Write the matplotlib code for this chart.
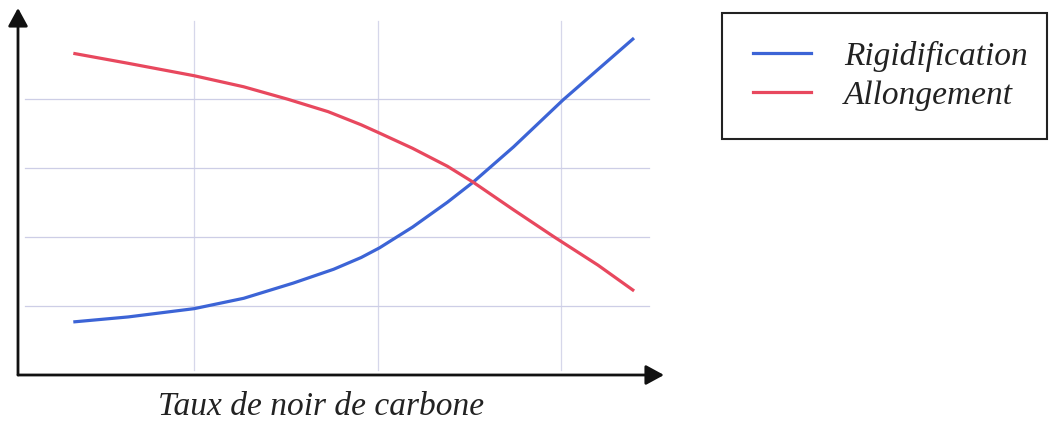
import matplotlib
matplotlib.use("Agg")
import matplotlib.pyplot as plt
from matplotlib.patches import Rectangle

plt.rcParams['font.family'] = ['Liberation Serif', 'DejaVu Serif']

# courbes schématiques : rigidification / allongement selon le taux de noir de carbone
taux = [0.35, 0.64, 1.00, 1.27, 1.54, 1.76, 1.91, 2.01, 2.19, 2.38, 2.52, 2.74, 3.01, 3.39]
rigidification = [0.77, 0.84, 0.96, 1.11, 1.33, 1.53, 1.70, 1.84, 2.14, 2.50, 2.79, 3.30, 3.98, 4.86]

taux_allong = [0.35, 0.64, 1.00, 1.27, 1.51, 1.73, 1.91, 2.01, 2.19, 2.38, 2.52, 2.74, 2.96, 3.20, 3.39]
allongement = [4.65, 4.51, 4.33, 4.17, 3.99, 3.81, 3.62, 3.50, 3.28, 3.02, 2.79, 2.39, 2.00, 1.59, 1.23]

noms = ["Rigidification", "Allongement"]
bleu = "#3c64d6"
rouge = "#e8485e"

W, H = 1049, 421
fig = plt.figure(figsize=(W / 100, H / 100), dpi=100)
ax = fig.add_axes([18 / W, (H - 375) / H, (664 - 18) / W, (375 - 8) / H])
ax.set_xlim(0.04, 3.56)
ax.set_ylim(0, 5.31)

# grille légère
for gx in [1, 2, 3]:
    ax.plot([gx, gx], [0.07, 5.12], color="#d6d7ea", lw=0.9, zorder=1)
for gy in [1, 2, 3, 4]:
    ax.plot([0.08, 3.48], [gy, gy], color="#cdcee6", lw=0.9, zorder=1)

ax.plot(taux, rigidification, color=bleu, lw=2.3, label=noms[0], zorder=3,
        solid_joinstyle="round")
ax.plot(taux_allong, allongement, color=rouge, lw=2.3, label=noms[1], zorder=3,
        solid_joinstyle="round")

for s in ax.spines.values():
    s.set_visible(False)
ax.set_xticks([])
ax.set_yticks([])

# axes fléchés
fleche = dict(arrowstyle="-|>,head_length=1.1,head_width=0.6",
              color="#111111", lw=2.0, shrinkA=0, shrinkB=0)
ax.annotate("", xy=(1.0, 0), xytext=(0, 0), xycoords="axes fraction", arrowprops=fleche)
ax.annotate("", xy=(0, 1.0), xytext=(0, 0), xycoords="axes fraction", arrowprops=fleche)

fig.text(321 / W, 1 - 415 / H, "Taux de noir de carbone", ha="center",
         va="baseline", fontsize=24, style="italic", color="#222222")

# légende encadrée
fig.patches.append(Rectangle((722 / W, 1 - 139 / H), (1047 - 722) / W, (139 - 13) / H,
                             transform=fig.transFigure, fill=False,
                             edgecolor="#222222", lw=1.5))
leg = fig.legend(loc="upper left", bbox_to_anchor=(753 / W, 1 - 41 / H),
                 frameon=False, prop={"style": "italic", "size": 24},
                 handlelength=1.73, handletextpad=1.0, labelspacing=0.25,
                 borderpad=0, borderaxespad=0)
for t in leg.get_texts():
    t.set_color("#222222")

fig.savefig("out.png", dpi=100)
